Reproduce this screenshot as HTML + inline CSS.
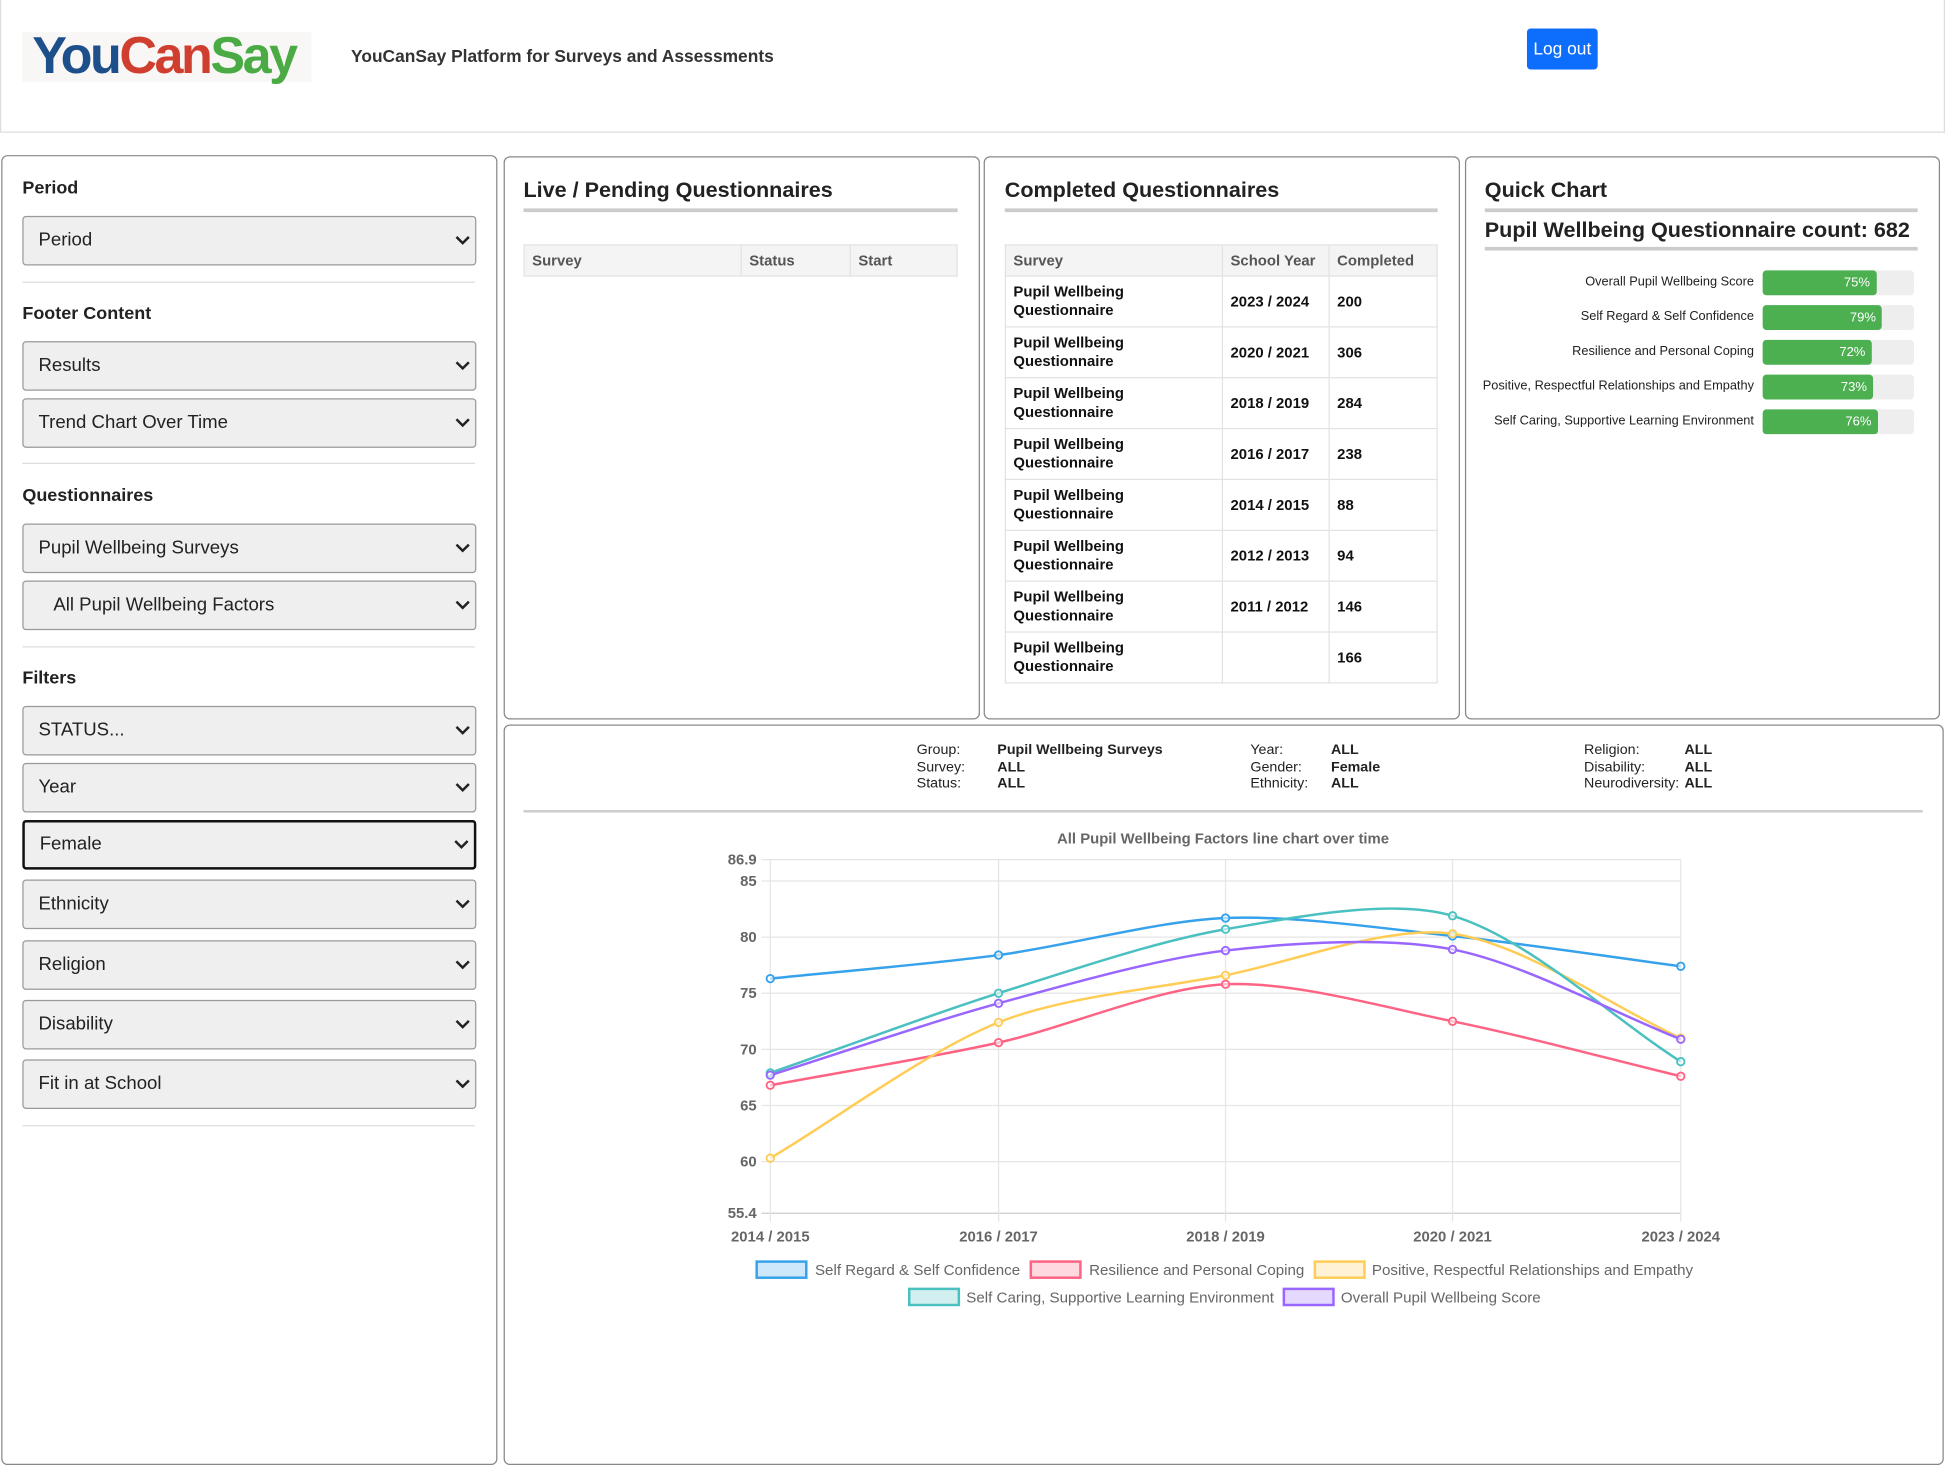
<!DOCTYPE html>
<html><head><meta charset="utf-8">
<style>
html,body{margin:0;padding:0;background:#fff;width:1945px;height:1465px;overflow:hidden}
#w{position:absolute;left:0;top:0;width:1568px;height:1181px;transform:scale(1.24043,1.2405);transform-origin:0 0;font-family:"Liberation Sans",sans-serif;color:#222}
.a{position:absolute}
.panel{position:absolute;border:1px solid #888;border-radius:5px;background:#fff}
.h{position:absolute;font-weight:bold;font-size:14.5px;color:#222}
.sel{position:absolute;left:18px;width:364px;height:38px;background:#efefef;border:1px solid #999;border-radius:3px;font-size:15px;line-height:38px;box-sizing:content-box}
.sel span{position:absolute;left:12px}
.sel svg{position:absolute;right:4px;top:15px}
.hr{position:absolute;left:18px;width:365px;height:1px;background:#ddd}
.t2{position:absolute;font-weight:bold;font-size:17.4px}
.thk{position:absolute;height:3px;background:#ccc}
table{position:absolute;border-collapse:collapse;font-size:12px}
td,th{border:1px solid #e2e2e2;padding:0 6px;text-align:left;vertical-align:middle}
th{background:#f4f4f4;color:#555;height:24px;font-weight:bold}
td{font-weight:bold;color:#111;height:40px;line-height:15px}
.lb{position:absolute;right:154px;font-size:10.3px;text-align:right;white-space:nowrap}
.bar{position:absolute;left:1421px;width:122px;height:20px;background:#eee;border-radius:3px}
.bar div{height:20px;background:#4caf50;border-radius:3px;color:#fff;font-size:10.5px;line-height:20px;text-align:right;box-sizing:border-box;padding-right:5px}
.inf{position:absolute;font-size:11.5px;line-height:13.5px}
.inf b{font-weight:bold}
</style></head><body><div id="w">
<div class="a" style="left:0;top:0;width:1566px;height:106px;border:1px solid #ddd;border-top:none"></div>
<div class="a" style="left:18px;top:26px;width:233px;height:40px;background:#f8f7f6"></div>
<div class="a" style="left:26px;top:19px;font-size:42px;font-weight:bold;letter-spacing:-2px;line-height:52px"><span style="color:#1d4f8a">You</span><span style="color:#cf3e2e">Can</span><span style="color:#4aab45">Say</span></div>
<div class="a" style="left:283px;top:37px;font-size:14px;font-weight:bold;color:#333">YouCanSay Platform for Surveys and Assessments</div>
<div class="a" style="left:1231px;top:23px;width:57px;height:33px;background:#0d6efd;border-radius:3px;color:#fff;font-size:14px;line-height:33px;text-align:center">Log out</div>

<div class="panel" style="left:1px;top:125px;width:398px;height:1054px"></div>
<div class="h" style="left:18px;top:144px">Period</div>
<div class="sel" style="top:174px"><span>Period</span><svg width="12" height="8"><path d="M1 1l5 5 5-5" stroke="#222" stroke-width="2" fill="none"/></svg></div>
<div class="hr" style="top:227px"></div>
<div class="h" style="left:18px;top:245px">Footer Content</div>
<div class="sel" style="top:275px"><span>Results</span><svg width="12" height="8"><path d="M1 1l5 5 5-5" stroke="#222" stroke-width="2" fill="none"/></svg></div>
<div class="sel" style="top:321px"><span>Trend Chart Over Time</span><svg width="12" height="8"><path d="M1 1l5 5 5-5" stroke="#222" stroke-width="2" fill="none"/></svg></div>
<div class="hr" style="top:373px"></div>
<div class="h" style="left:18px;top:392px">Questionnaires</div>
<div class="sel" style="top:422px"><span>Pupil Wellbeing Surveys</span><svg width="12" height="8"><path d="M1 1l5 5 5-5" stroke="#222" stroke-width="2" fill="none"/></svg></div>
<div class="sel" style="top:468px"><span style="left:24px">All Pupil Wellbeing Factors</span><svg width="12" height="8"><path d="M1 1l5 5 5-5" stroke="#222" stroke-width="2" fill="none"/></svg></div>
<div class="hr" style="top:521px"></div>
<div class="h" style="left:18px;top:539px">Filters</div>
<div class="sel" style="top:569px"><span>STATUS...</span><svg width="12" height="8"><path d="M1 1l5 5 5-5" stroke="#222" stroke-width="2" fill="none"/></svg></div>
<div class="sel" style="top:615px"><span>Year</span><svg width="12" height="8"><path d="M1 1l5 5 5-5" stroke="#222" stroke-width="2" fill="none"/></svg></div>
<div class="sel" style="top:661px;border:2px solid #111;height:36px;line-height:36px;width:362px"><span>Female</span><svg width="12" height="8" style="top:14px"><path d="M1 1l5 5 5-5" stroke="#222" stroke-width="2" fill="none"/></svg></div>
<div class="sel" style="top:709px"><span>Ethnicity</span><svg width="12" height="8"><path d="M1 1l5 5 5-5" stroke="#222" stroke-width="2" fill="none"/></svg></div>
<div class="sel" style="top:758px"><span>Religion</span><svg width="12" height="8"><path d="M1 1l5 5 5-5" stroke="#222" stroke-width="2" fill="none"/></svg></div>
<div class="sel" style="top:806px"><span>Disability</span><svg width="12" height="8"><path d="M1 1l5 5 5-5" stroke="#222" stroke-width="2" fill="none"/></svg></div>
<div class="sel" style="top:854px"><span>Fit in at School</span><svg width="12" height="8"><path d="M1 1l5 5 5-5" stroke="#222" stroke-width="2" fill="none"/></svg></div>
<div class="hr" style="top:907px"></div>

<div class="panel" style="left:406px;top:126px;width:382px;height:452px"></div>
<div class="t2" style="left:422px;top:143px">Live / Pending Questionnaires</div>
<div class="thk" style="left:422px;top:168px;width:350px"></div>
<table style="left:422px;top:197px;width:350px"><tr><th style="width:162px">Survey</th><th style="width:75px">Status</th><th>Start</th></tr></table>

<div class="panel" style="left:793px;top:126px;width:382px;height:452px"></div>
<div class="t2" style="left:810px;top:143px">Completed Questionnaires</div>
<div class="thk" style="left:810px;top:168px;width:349px"></div>
<table style="left:810px;top:197px;width:349px">
<tr><th style="width:162px">Survey</th><th style="width:73px">School Year</th><th>Completed</th></tr>
<tr><td>Pupil Wellbeing<br>Questionnaire</td><td>2023 / 2024</td><td>200</td></tr>
<tr><td>Pupil Wellbeing<br>Questionnaire</td><td>2020 / 2021</td><td>306</td></tr>
<tr><td>Pupil Wellbeing<br>Questionnaire</td><td>2018 / 2019</td><td>284</td></tr>
<tr><td>Pupil Wellbeing<br>Questionnaire</td><td>2016 / 2017</td><td>238</td></tr>
<tr><td>Pupil Wellbeing<br>Questionnaire</td><td>2014 / 2015</td><td>88</td></tr>
<tr><td>Pupil Wellbeing<br>Questionnaire</td><td>2012 / 2013</td><td>94</td></tr>
<tr><td>Pupil Wellbeing<br>Questionnaire</td><td>2011 / 2012</td><td>146</td></tr>
<tr><td>Pupil Wellbeing<br>Questionnaire</td><td></td><td>166</td></tr>
</table>

<div class="panel" style="left:1181px;top:126px;width:381px;height:452px"></div>
<div class="t2" style="left:1197px;top:143px">Quick Chart</div>
<div class="thk" style="left:1197px;top:168px;width:349px"></div>
<div class="t2" style="left:1197px;top:175px">Pupil Wellbeing Questionnaire count: 682</div>
<div class="thk" style="left:1197px;top:199px;width:349px"></div>
<div class="lb" style="top:222px">Overall Pupil Wellbeing Score</div><div class="bar" style="top:218px"><div style="width:75%">75%</div></div>
<div class="lb" style="top:250px">Self Regard &amp; Self Confidence</div><div class="bar" style="top:246px"><div style="width:79%">79%</div></div>
<div class="lb" style="top:278px">Resilience and Personal Coping</div><div class="bar" style="top:274px"><div style="width:72%">72%</div></div>
<div class="lb" style="top:306px">Positive, Respectful Relationships and Empathy</div><div class="bar" style="top:302px"><div style="width:73%">73%</div></div>
<div class="lb" style="top:334px">Self Caring, Supportive Learning Environment</div><div class="bar" style="top:330px"><div style="width:76%">76%</div></div>

<div class="panel" style="left:406px;top:584px;width:1159px;height:595px"></div>
<div class="inf" style="left:739px;top:599px">Group:<br>Survey:<br>Status:</div>
<div class="inf" style="left:804px;top:599px"><b>Pupil Wellbeing Surveys<br>ALL<br>ALL</b></div>
<div class="inf" style="left:1008px;top:599px">Year:<br>Gender:<br>Ethnicity:</div>
<div class="inf" style="left:1073px;top:599px"><b>ALL<br>Female<br>ALL</b></div>
<div class="inf" style="left:1277px;top:599px">Religion:<br>Disability:<br>Neurodiversity:</div>
<div class="inf" style="left:1358px;top:599px"><b>ALL<br>ALL<br>ALL</b></div>
<div class="thk" style="left:422px;top:653px;width:1128px;height:2px"></div>

<svg class="a" style="left:0;top:0" width="1568" height="1181" id="ch" font-family="Liberation Sans, sans-serif">
<text x="986" y="680" text-anchor="middle" font-size="12" font-weight="bold" fill="#666">All Pupil Wellbeing Factors line chart over time</text>
<g id="grid" stroke="#e5e5e5" stroke-width="1"></g>
<g id="lbl" font-size="12" font-weight="bold" fill="#666"></g>
<g id="ser" fill="none" stroke-width="2"></g>
<g font-size="12.2" fill="#666">
<rect x="610" y="1017" width="40" height="13" fill="rgba(54,162,235,0.25)" stroke="#36a2eb" stroke-width="2"/><text x="657" y="1028">Self Regard &amp; Self Confidence</text>
<rect x="831" y="1017" width="40" height="13" fill="rgba(255,99,132,0.25)" stroke="#ff6384" stroke-width="2"/><text x="878" y="1028">Resilience and Personal Coping</text>
<rect x="1060" y="1017" width="40" height="13" fill="rgba(255,205,86,0.25)" stroke="#ffcd56" stroke-width="2"/><text x="1106" y="1028">Positive, Respectful Relationships and Empathy</text>
<rect x="733" y="1039" width="40" height="13" fill="rgba(75,192,192,0.25)" stroke="#4bc0c0" stroke-width="2"/><text x="779" y="1050">Self Caring, Supportive Learning Environment</text>
<rect x="1035" y="1039" width="40" height="13" fill="rgba(153,102,255,0.25)" stroke="#9966ff" stroke-width="2"/><text x="1081" y="1050">Overall Pupil Wellbeing Score</text>
</g>
</svg>
</div>
<script>
(function(){
var NS="http://www.w3.org/2000/svg";
function el(p,n,a,t){var e=document.createElementNS(NS,n);for(var k in a)e.setAttribute(k,a[k]);if(t)e.textContent=t;p.appendChild(e);return e;}
var X=[621,805,988,1171,1355];
function Y(v){return 693+(86.9-v)*285/31.5;}
var g=document.getElementById('grid'),l=document.getElementById('lbl'),s=document.getElementById('ser');
var ticks=[86.9,85,80,75,70,65,60,55.4];
ticks.forEach(function(t){var y=Y(t);el(g,'line',{x1:614,x2:1355,y1:y,y2:y,stroke:t==55.4?'#ccc':'#e5e5e5'});el(l,'text',{x:610,y:y+4,'text-anchor':'end'},String(t));});
var labs=['2014 / 2015','2016 / 2017','2018 / 2019','2020 / 2021','2023 / 2024'];
X.forEach(function(x,i){el(g,'line',{x1:x,x2:x,y1:693,y2:985});el(l,'text',{x:x,y:1001,'text-anchor':'middle'},labs[i]);});
var S=[['#36a2eb',[76.3,78.4,81.7,80.1,77.4]],['#ff6384',[66.8,70.6,75.8,72.5,67.6]],['#ffcd56',[60.3,72.4,76.6,80.3,71.0]],['#4bc0c0',[67.9,75.0,80.7,81.9,68.9]],['#9966ff',[67.7,74.1,78.8,78.9,70.9]]];
function dist(a,b){return Math.sqrt((a[0]-b[0])*(a[0]-b[0])+(a[1]-b[1])*(a[1]-b[1]));}
S.forEach(function(sr){var c=sr[0],P=sr[1].map(function(v,i){return [X[i],Y(v)];});
var t=0.3,cp=[];
for(var i=0;i<P.length;i++){var pr=P[i-1]||P[i],cu=P[i],nx=P[i+1]||P[i];
var d01=dist(pr,cu),d12=dist(cu,nx),s01=d01/(d01+d12||1),s12=d12/(d01+d12||1);
var fa=t*s01,fb=t*s12;
cp.push({p:[cu[0]-fa*(nx[0]-pr[0]),cu[1]-fa*(nx[1]-pr[1])],n:[cu[0]+fb*(nx[0]-pr[0]),cu[1]+fb*(nx[1]-pr[1])]});}
var d='M'+P[0][0]+' '+P[0][1];
for(var i=0;i<P.length-1;i++){d+=' C'+cp[i].n+' '+cp[i+1].p+' '+P[i+1];}
el(s,'path',{d:d,stroke:c,'stroke-width':2});
P.forEach(function(p){el(s,'circle',{cx:p[0],cy:p[1],r:3,stroke:c,fill:'rgba(255,255,255,0.6)','stroke-width':1.5});});});
})();
</script>
</body></html>
